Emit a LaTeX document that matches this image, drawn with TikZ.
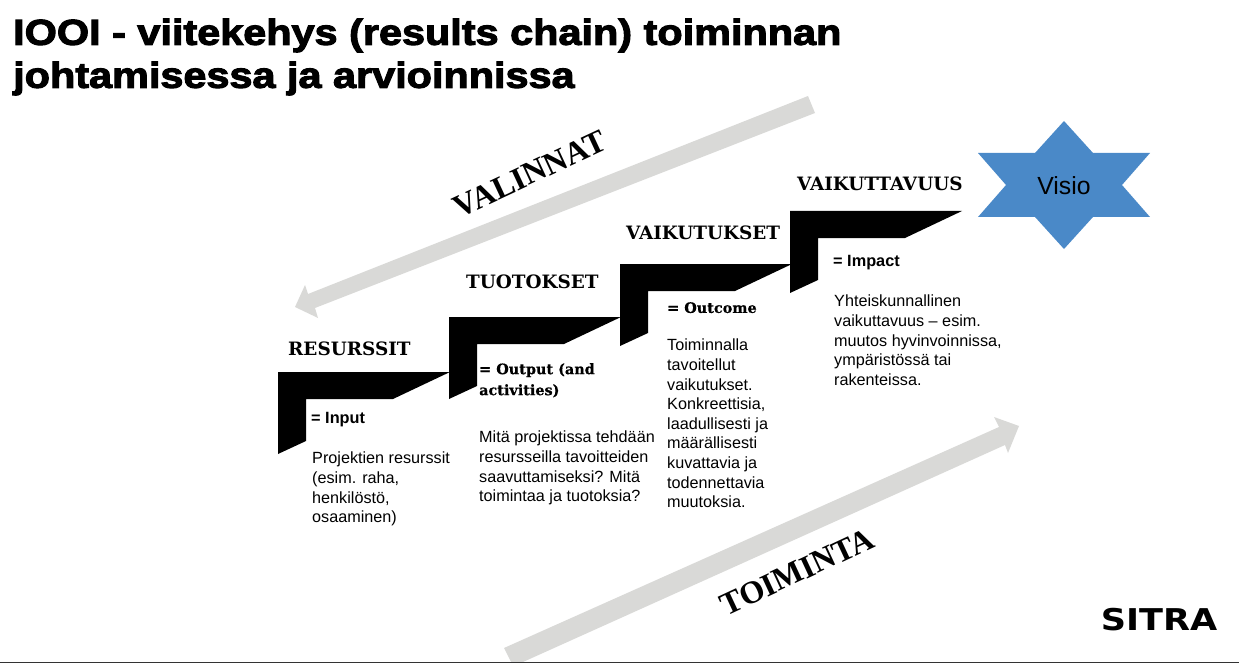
\documentclass[tikz,border=0pt]{standalone}
\usepackage{fontspec}
\setmainfont{Liberation Sans}
\newfontfamily\titlefont[FakeBold=3,FakeStretch=1.15]{Liberation Sans Bold}
\newfontfamily\headfont{DejaVu Serif Bold}
\newfontfamily\subfont[FakeBold=0.5]{DejaVu Serif Bold}
\newfontfamily\slopefont{Liberation Serif Bold}
\newfontfamily\logofont{DejaVu Sans Bold}
\usetikzlibrary{positioning}
\usetikzlibrary{calc}
\definecolor{arrowgray}{RGB}{217,217,215}
\definecolor{visioblue}{RGB}{74,137,200}
\tikzset{
  every picture/.style={x=1pt,y=-1pt},
  headlabel/.style={anchor=west,inner sep=0pt,font=\headfont\fontsize{18.4}{21}\selectfont},
  sublabel/.style={anchor=north west,inner sep=0pt,align=left,font=\subfont\fontsize{14.4}{21}\selectfont},
  arialsub/.style={anchor=north west,inner sep=0pt,align=left,font=\bfseries\fontsize{16.3}{20}\selectfont},
  bodytext/.style={anchor=north west,inner sep=0pt,align=left,font=\fontsize{16.2}{19.6}\selectfont},
  bigarrow/.style={fill=arrowgray},
  sloped head/.style={font=\slopefont\fontsize{32}{36}\selectfont,inner sep=0pt}
}
\begin{document}
\begin{tikzpicture}
\useasboundingbox (0,0) rectangle (1239,663);
\fill[bigarrow] (808,96) -- (815,113) -- (315,308) -- (318,318) -- (295,307) -- (305,285) -- (308,294) -- cycle;
\foreach \x/\y in {278/372, 449/317, 620/264, 790/211} {
\fill[black] (\x,\y) -- ++(172,0) -- ++(-57,27) -- ++(-87,0) -- ++(0,42) -- ++(-28,13) -- cycle;
}
\node[headlabel] (resurssit) at (288,349) {RESURSSIT};
\node[headlabel] (tuotokset) at (466,282) {TUOTOKSET};
\node[headlabel] (vaikutukset) at (626,233) {VAIKUTUKSET};
\node[headlabel] (vaikuttavuus) at (797,184) {VAIKUTTAVUUS};
\node[arialsub] (input) at (311,412) {= Input};
\node[sublabel] (output) at (479,363) {= Output (and\\activities)};
\node[sublabel] (outcome) at (667,302) {= Outcome};
\node[arialsub] (impact) at (833,255) {= Impact};
\node[bodytext] (t1) at (312,452) {Projektien resurssit\\(esim. raha,\\henkilöstö,\\osaaminen)};
\node[bodytext] (t2) at (479,431) {Mitä projektissa tehdään\\resursseilla tavoitteiden\\saavuttamiseksi? Mitä\\toimintaa ja tuotoksia?};
\node[bodytext] (t3) at (667,339) {Toiminnalla\\tavoitellut\\vaikutukset.\\Konkreettisia,\\laadullisesti ja\\määrällisesti\\kuvattavia ja\\todennettavia\\muutoksia.};
\node[bodytext] (t4) at (834,295) {Yhteiskunnallinen\\vaikuttavuus – esim.\\muutos hyvinvoinnissa,\\ympäristössä tai\\rakenteissa.};
\fill[visioblue] (1064,121) -- (1093,153) -- (1150,153) -- (1122,185) -- (1150,217) -- (1093,217) -- (1064,249) -- (1035,217) -- (978,217) -- (1006,185) -- (978,153) -- (1035,153) -- cycle;
\node[font=\fontsize{24.8}{28}\selectfont,inner sep=0pt] (visio) at (1064,186) {Visio};
\node[sloped head,rotate=25] (valinnat) at (530,174) {VALINNAT};
\node[sloped head,rotate=25] (toiminta) at (797,572) {TOIMINTA};
\fill[bigarrow] (504,648) -- (999,427) -- (994,417) -- (1019,426) -- (1008,453) -- (1005,445) -- (523,662) -- (511,662) -- cycle;
\node[anchor=west,inner sep=0pt,font=\titlefont\fontsize{36}{43}\selectfont,align=left] (title) at (13,57) {IOOI - viitekehys (results chain) toiminnan\\johtamisessa ja arvioinnissa};
\node[font=\logofont\fontsize{30}{32}\selectfont,inner sep=0pt,xscale=1.17] (sitra) at (1159,620) {SITRA};
\draw[line width=1pt,black!80] (0,662) -- (1239,662);
\end{tikzpicture}
\end{document}
